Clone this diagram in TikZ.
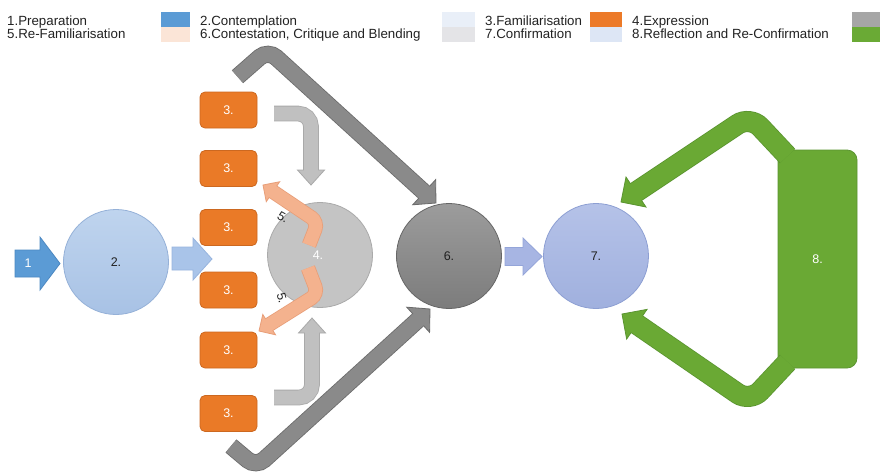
\documentclass[tikz,border=0pt]{standalone}
\usepackage{fontspec}
\setmainfont{Liberation Sans}
\usetikzlibrary{calc}

\definecolor{ink}{HTML}{222222}
\definecolor{swBlue}{HTML}{5B9BD5}
\definecolor{swPeach}{HTML}{FBE5D7}
\definecolor{swPaleBlue}{HTML}{E9EFF8}
\definecolor{swPaleGray}{HTML}{E4E4E7}
\definecolor{swOrange}{HTML}{EC7A28}
\definecolor{swLavender}{HTML}{DDE6F5}
\definecolor{swGray}{HTML}{A6A6A6}
\definecolor{swGreen}{HTML}{6AAA35}

\definecolor{prepFill}{HTML}{5B9BD5}
\definecolor{prepEdge}{HTML}{4C88C2}
\definecolor{contTop}{HTML}{BFD4EE}
\definecolor{contBot}{HTML}{A8C2E5}
\definecolor{contEdge}{HTML}{95B1D8}
\definecolor{flowBlue}{HTML}{A9C4E9}
\definecolor{flowBlueEdge}{HTML}{97B4DE}
\definecolor{famFill}{HTML}{EA7A27}
\definecolor{famEdge}{HTML}{CC6820}
\definecolor{lightGray}{HTML}{C0C0C0}
\definecolor{lightGrayEdge}{HTML}{A9A9A9}
\definecolor{exprFill}{HTML}{C4C4C4}
\definecolor{exprEdge}{HTML}{AAAAAA}
\definecolor{peach}{HTML}{F4B28E}
\definecolor{peachEdge}{HTML}{E89E78}
\definecolor{darkGray}{HTML}{8A8A8A}
\definecolor{darkGrayEdge}{HTML}{6A6A6A}
\definecolor{contestTop}{HTML}{9C9C9C}
\definecolor{contestBot}{HTML}{7C7C7C}
\definecolor{contestEdge}{HTML}{666666}
\definecolor{flowLav}{HTML}{A7B5E3}
\definecolor{flowLavEdge}{HTML}{94A5D9}
\definecolor{confTop}{HTML}{B5C2E8}
\definecolor{confBot}{HTML}{A0B0DE}
\definecolor{confEdge}{HTML}{8D9FD3}
\definecolor{reflFill}{HTML}{6AA934}
\definecolor{reflEdge}{HTML}{5A9430}

% bent block arrow: fill, edge, shaft width, half head width, head length,
% corner radius, path up to its last bend, last bend, tip
\newcommand\blockarrow[9]{%
  \coordinate (ba-base) at ($(#9)!#5pt!(#8)$);
  \coordinate (ba-in) at ($(ba-base)!1.5pt!(#9)$);
  \coordinate (ba-l) at ($(ba-base)!#4pt!90:(#9)$);
  \coordinate (ba-r) at ($(ba-base)!#4pt!-90:(#9)$);
  \pgfmathsetmacro\baouter{#3+1.6}
  \draw[draw=#2, line width=\baouter pt, rounded corners=#6] #7 -- (ba-base);
  \filldraw[fill=#1, draw=#2, line width=0.8pt, line join=miter] (ba-l) -- (#9) -- (ba-r) -- cycle;
  \draw[draw=#1, line width=#3pt, rounded corners=#6] #7 -- (ba-in);
}

\tikzset{
  legendtext/.style={anchor=base west, inner sep=0pt, text=ink,
    font=\fontsize{13.3}{13.3}\selectfont},
  stage/.style={circle, minimum size=105pt, inner sep=0pt, line width=0.8pt},
  famil/.style={rectangle, rounded corners=5pt, minimum width=57pt,
    minimum height=36pt, inner sep=0pt, fill=famFill, draw=famEdge,
    line width=0.8pt, text=white},
  steplabel/.style={inner sep=0pt, text=ink},
}

\begin{document}
\begin{tikzpicture}[x=1pt, y=-1pt, font=\fontsize{12.5}{12.5}\selectfont]
\useasboundingbox (0,0) rectangle (882,475);
\fill[white] (0,0) rectangle (882,475);

% ---- legend ----
\node[legendtext] (l1) at (7,25.5) {1.Preparation};
\node[legendtext] (l5) at (7,38.5) {5.Re-Familiarisation};
\fill[swBlue] (161,12) rectangle (190,27);
\fill[swPeach] (161,27) rectangle (190,42);
\node[legendtext] (l2) at (200,25.5) {2.Contemplation};
\node[legendtext] (l6) at (200,38.5) {6.Contestation, Critique and Blending};
\fill[swPaleBlue] (442,12) rectangle (475,27);
\fill[swPaleGray] (442,27) rectangle (475,42);
\node[legendtext] (l3) at (485,25.5) {3.Familiarisation};
\node[legendtext] (l7) at (485,38.5) {7.Confirmation};
\fill[swOrange] (590,12) rectangle (622,27);
\fill[swLavender] (590,27) rectangle (622,42);
\node[legendtext] (l4) at (632,25.5) {4.Expression};
\node[legendtext] (l8) at (632,38.5) {8.Reflection and Re-Confirmation};
\fill[swGray] (852,12) rectangle (880,27);
\fill[swGreen] (852,27) rectangle (880,42);

% ---- stages ----
\node[stage, top color=contTop, bottom color=contBot, draw=contEdge, text=ink] (c2) at (116,262) {2.};
\node[stage, fill=exprFill, draw=exprEdge] (c4) at (320,255) {};
\node[stage, top color=contestTop, bottom color=contestBot, draw=contestEdge, text=ink] (c6) at (449,256) {6.};
\node[stage, top color=confTop, bottom color=confBot, draw=confEdge, text=ink] (c7) at (596,256) {7.};

\foreach \yy [count=\i] in {110,168.5,227.5,290,350,413.5}
  \node[famil] (f\i) at (228.5,\yy) {3.};

\node[rectangle, rounded corners=10pt, minimum width=79pt, minimum height=218pt,
  fill=reflFill, draw=reflEdge, line width=0.8pt, text=white] (r8) at (817.5,259) {8.};

% ---- straight block arrows ----
\filldraw[fill=prepFill, draw=prepEdge, line width=0.8pt]
  (15,250) -- (40,250) -- (40,237) -- (60,263.5) -- (40,290) -- (40,277) -- (15,277) -- cycle;
\node[text=white] (a1) at (28,263.5) {1};

\filldraw[fill=flowBlue, draw=flowBlueEdge, line width=0.8pt]
  (172,247) -- (193,247) -- (193,238) -- (212,259) -- (193,280) -- (193,270) -- (172,270) -- cycle;

\filldraw[fill=flowLav, draw=flowLavEdge, line width=0.8pt]
  (505,247.5) -- (523,247.5) -- (523,238) -- (542,256.5) -- (523,275) -- (523,265.5) -- (505,265.5) -- cycle;

% ---- feed into expression ----
\coordinate (ja) at (274,113.5); \coordinate (jb) at (311,113.5); \coordinate (jc) at (311,185);
\blockarrow{lightGray}{lightGrayEdge}{14}{13.5}{15}{13pt}{(ja) -- (jb)}{jb}{jc}
\coordinate (ka) at (274,397.5); \coordinate (kb) at (312,397.5); \coordinate (kc) at (312,318);
\blockarrow{lightGray}{lightGrayEdge}{14}{13.5}{15}{13pt}{(ka) -- (kb)}{kb}{kc}

% ---- re-familiarisation ----
\coordinate (pa) at (309,245); \coordinate (pb) at (318,222); \coordinate (pc) at (263,185);
\blockarrow{peach}{peachEdge}{13}{12}{12}{8pt}{(pa) -- (pb)}{pb}{pc}
\coordinate (qa) at (308,268); \coordinate (qb) at (318,294); \coordinate (qc) at (259,331);
\blockarrow{peach}{peachEdge}{13}{12}{12}{8pt}{(qa) -- (qb)}{qb}{qc}
\node[steplabel, text=white] (t4) at (318,255) {4.};
\node[steplabel, rotate=-30] (t5a) at (283,217) {5.};
\node[steplabel, rotate=-75] (t5b) at (282,298) {5.};

% ---- into contestation ----
\coordinate (ua) at (237.5,76.7); \coordinate (ub) at (268,50); \coordinate (uc) at (436,203);
\blockarrow{darkGray}{darkGrayEdge}{15.5}{17}{16}{11pt}{(ua) -- (ub)}{ub}{uc}
\coordinate (va) at (231,446); \coordinate (vb) at (256,467); \coordinate (vc) at (430,309);
\blockarrow{darkGray}{darkGrayEdge}{15.5}{17}{16}{11pt}{(va) -- (vb)}{vb}{vc}

% ---- reflection back to confirmation ----
\coordinate (ga) at (787.5,156); \coordinate (gb) at (750,116); \coordinate (gc) at (621,202);
\blockarrow{reflFill}{reflEdge}{19.5}{18}{18}{15pt}{(ga) -- (gb)}{gb}{gc}
\coordinate (ha) at (787.5,362); \coordinate (hb) at (750,402); \coordinate (hc) at (622,314);
\blockarrow{reflFill}{reflEdge}{19.5}{18}{18}{15pt}{(ha) -- (hb)}{hb}{hc}
\end{tikzpicture}
\end{document}
